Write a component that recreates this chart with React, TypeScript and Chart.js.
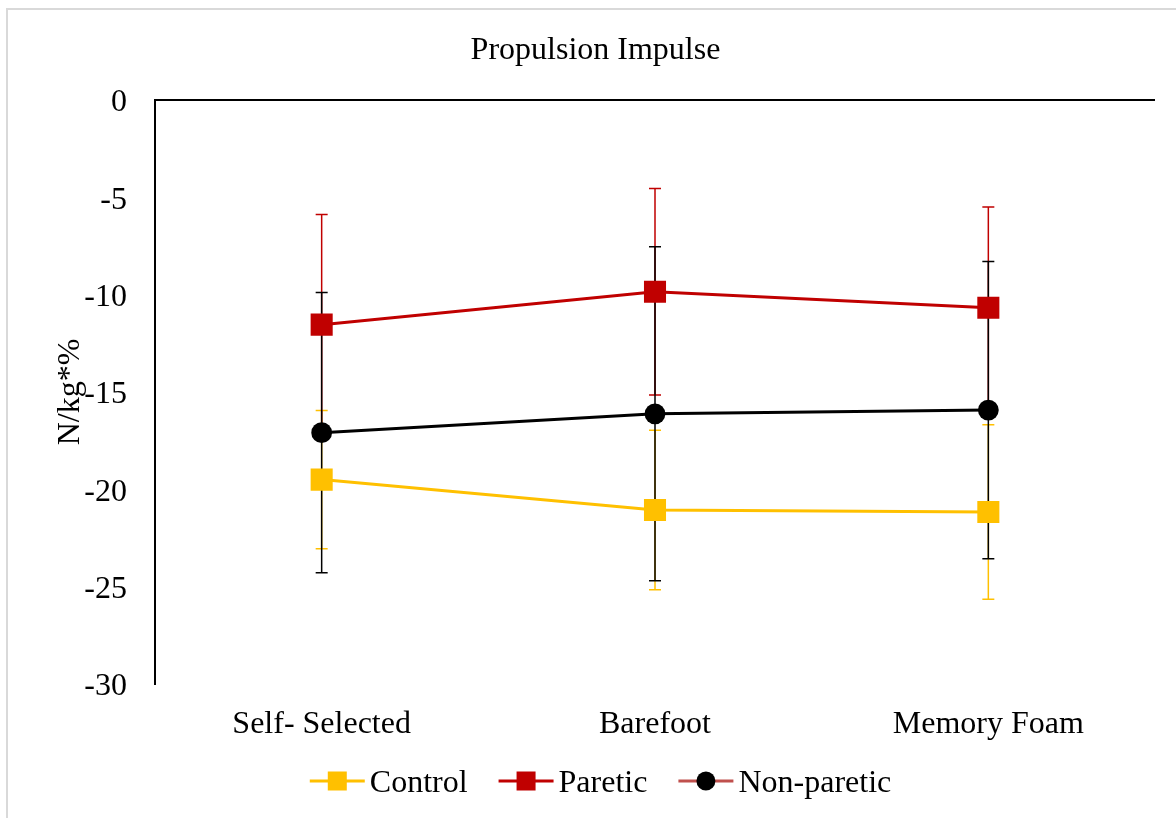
import React, { useEffect, useRef } from 'react';
import { Chart, registerables } from 'chart.js';

Chart.register(...registerables);

const categories = ['Self- Selected', 'Barefoot', 'Memory Foam'];
const seriesNames = ['Control', 'Paretic', 'Non-paretic'];
const controlMeans = [-19.5, -21.06, -21.16];
const controlErr = [3.55, 4.1, 4.48];
const pareticMeans = [-11.54, -9.85, -10.67];
const pareticErr = [5.66, 5.3, 5.17];
const nonPareticMeans = [-17.09, -16.12, -15.93];
const nonPareticErr = [7.2, 8.58, 7.63];
const yTicks = [0, -5, -10, -15, -20, -25, -30];

const FONT = '"Liberation Serif", "Times New Roman", serif';
const COLORS = ['#FFC000', '#C00000', '#000000'];
const LEGEND_LINE_COLORS = ['#FFC000', '#C00000', '#C0504D'];
const MARKERS = ['rect', 'rect', 'circle'];

const borderPlugin = {
  id: 'frameBorder',
  beforeDraw(chart: any) {
    const ctx = chart.ctx;
    ctx.save();
    ctx.fillStyle = '#ffffff';
    ctx.fillRect(0, 0, chart.width, chart.height);
    ctx.fillStyle = '#d9d9d9';
    ctx.fillRect(6, 8, chart.width - 6, 2);
    ctx.fillRect(6, 8, 2, chart.height - 8);
    ctx.restore();
  },
};

const errorBarPlugin = {
  id: 'errorBars',
  beforeDatasetsDraw(chart: any) {
    const ctx = chart.ctx;
    const xs = chart.scales.x;
    const ys = chart.scales.y;
    ctx.save();
    chart.data.datasets.forEach((ds: any) => {
      ctx.strokeStyle = ds.borderColor;
      ctx.lineWidth = 1.5;
      ds.data.forEach((v: number, i: number) => {
        const e = ds.errors[i];
        const px = xs.getPixelForValue(i);
        const top = ys.getPixelForValue(v + e);
        const bot = ys.getPixelForValue(v - e);
        ctx.beginPath();
        ctx.moveTo(px, top);
        ctx.lineTo(px, bot);
        ctx.moveTo(px - 6, top);
        ctx.lineTo(px + 6, top);
        ctx.moveTo(px - 6, bot);
        ctx.lineTo(px + 6, bot);
        ctx.stroke();
      });
    });
    ctx.restore();
  },
};

const legendPlugin = {
  id: 'customLegend',
  afterDraw(chart: any) {
    const ctx = chart.ctx;
    ctx.save();
    ctx.font = '32px ' + FONT;
    ctx.textBaseline = 'middle';
    ctx.textAlign = 'left';
    const lineLen = 55;
    const textGap = 5;
    const itemGap = 31;
    const widths = seriesNames.map((n) => ctx.measureText(n).width);
    const total =
      widths.reduce((a, b) => a + b, 0) + seriesNames.length * (lineLen + textGap) + (seriesNames.length - 1) * itemGap;
    let x = 600.5 - total / 2;
    const y = 781;
    seriesNames.forEach((name, i) => {
      ctx.strokeStyle = LEGEND_LINE_COLORS[i];
      ctx.lineWidth = 3;
      ctx.beginPath();
      ctx.moveTo(x, y);
      ctx.lineTo(x + lineLen, y);
      ctx.stroke();
      ctx.fillStyle = COLORS[i];
      const cx = x + lineLen / 2;
      if (MARKERS[i] === 'rect') {
        ctx.fillRect(cx - 9.5, y - 9.5, 19, 19);
      } else {
        ctx.beginPath();
        ctx.arc(cx, y, 9.5, 0, Math.PI * 2);
        ctx.fill();
      }
      ctx.fillStyle = '#000';
      ctx.fillText(name, x + lineLen + textGap, y + 3);
      x += lineLen + textGap + widths[i] + itemGap;
    });
    ctx.restore();
  },
};

export default function App() {
  const ref = useRef<HTMLCanvasElement | null>(null);

  useEffect(() => {
    if (!ref.current) return;
    const means = [controlMeans, pareticMeans, nonPareticMeans];
    const errs = [controlErr, pareticErr, nonPareticErr];
    const chart = new Chart(ref.current, {
      type: 'line',
      data: {
        labels: categories,
        datasets: seriesNames.map((name, i) => ({
          label: name,
          data: means[i],
          errors: errs[i],
          borderColor: COLORS[i],
          backgroundColor: COLORS[i],
          borderWidth: 3,
          tension: 0,
          fill: false,
          pointStyle: MARKERS[i],
          pointRadius: MARKERS[i] === 'rect' ? 15.6 : 10.4,
          pointBorderWidth: 0,
          pointBackgroundColor: COLORS[i],
          order: 3 - i,
        })) as any,
      },
      options: {
        responsive: false,
        animation: false,
        devicePixelRatio: 1,
        layout: { padding: { left: 36, right: 21, top: 0, bottom: 0 } },
        plugins: {
          legend: { display: false },
          tooltip: { enabled: false },
          title: {
            display: true,
            text: 'Propulsion Impulse',
            color: '#000',
            font: { family: FONT, size: 32, weight: 'normal' },
            padding: { top: 31, bottom: 30.6 },
          },
        },
        scales: {
          x: {
            type: 'category',
            offset: true,
            grid: { display: false, drawTicks: false },
            border: { display: false },
            ticks: {
              color: '#000',
              font: { family: FONT, size: 32 },
              padding: 21,
              maxRotation: 0,
            },
            afterFit: (s: any) => {
              s.height = 134;
            },
          },
          y: {
            min: -30,
            max: 0,
            afterBuildTicks: (s: any) => {
              s.ticks = yTicks.map((v) => ({ value: v }));
            },
            grid: {
              drawTicks: false,
              color: (c: any) => (c.tick && c.tick.value === 0 ? '#000' : 'rgba(0,0,0,0)'),
              lineWidth: 2,
            },
            border: { display: true, color: '#000', width: 2 },
            ticks: {
              color: '#000',
              font: { family: FONT, size: 32 },
              padding: 28,
              labelOffset: 3,
            },
            title: {
              display: true,
              text: 'N/kg*%',
              color: '#000',
              font: { family: FONT, size: 32 },
              padding: { top: 15, bottom: 0 },
            },
            afterFit: (s: any) => {
              s.width = 119;
            },
          },
        },
      },
      plugins: [borderPlugin, errorBarPlugin, legendPlugin],
    });
    return () => chart.destroy();
  }, []);

  return (
    <div style={{ position: 'fixed', left: 0, top: 0, width: 1176, height: 818, background: '#fff' }}>
      <canvas ref={ref} width={1176} height={818} style={{ width: 1176, height: 818, display: 'block' }} />
    </div>
  );
}
